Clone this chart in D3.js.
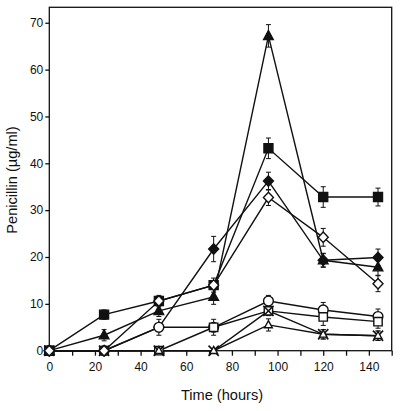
<!DOCTYPE html>
<html><head><meta charset="utf-8">
<script src="https://cdn.jsdelivr.net/npm/d3@7"></script>
<style>body{margin:0;background:#fff}svg{display:block}text{font-family:"Liberation Sans",Arial,sans-serif;fill:#111}</style>
</head><body><svg id="c" width="400" height="411"></svg>
<script>
const times = [0, 24, 48, 72, 96, 120, 144];
const filledSquare   = [0, 7.7, 10.6, 14.0, 43.2, 32.8, 32.8];
const filledSquareErr= [0, 1.0, 0, 0, 2.2, 2.2, 1.9];
const filledTriangle = [0, 3.3, 8.5, 11.5, 67.2, 19.3, 17.8];
const filledTriangleErr=[0, 1.2, 1.2, 1.6, 2.4, 1.5, 1.7];
const filledDiamond  = [0, 0, 5.0, 21.7, 36.2, 19.3, 19.9];
const filledDiamondErr=[0, 0, 0, 2.7, 1.9, 1.4, 1.8];
const openCircle     = [0, 0, 5.0, 5.0, 10.6, 8.7, 7.3];
const openCircleErr  = [0, 0, 1.7, 0, 1.2, 1.6, 1.6];
const openSquare     = [0, 0, 0, 5.0, 8.5, 7.2, 6.2];
const openSquareErr  = [0, 0, 0, 1.7, 1.0, 1.8, 1.4];
const cross          = [0, 0, 0, 0, 8.5, 3.5, 3.2];
const crossErr       = [0, 0, 0, 0, 1.0, 1.0, 1.0];
const openTriangle   = [0, 0, 0, 0, 5.5, 3.5, 3.2];
const openTriangleErr= [0, 0, 0, 0, 1.3, 1.0, 1.0];
const openDiamond    = [0, 0, 10.6, 14.0, 32.7, 24.2, 14.3];
const openDiamondErr = [0, 0, 1.2, 1.5, 1.7, 1.9, 1.7];
const xTicks = [0, 20, 40, 60, 80, 100, 120, 140];
const yTicks = [0, 10, 20, 30, 40, 50, 60, 70];

const symDiamond = { draw(ctx, size) { const r = Math.sqrt(size / 2); ctx.moveTo(0, -r * 1.05); ctx.lineTo(r, 0); ctx.lineTo(0, r * 1.05); ctx.lineTo(-r, 0); ctx.closePath(); } };
const symTri = { draw(ctx, size) { const s = Math.sqrt(size) * 1.3; const h = s * 0.92; ctx.moveTo(0, -h * 0.6); ctx.lineTo(s / 2, h * 0.4); ctx.lineTo(-s / 2, h * 0.4); ctx.closePath(); } };

const series = [
  {v: filledSquare, e: filledSquareErr, sym: d3.symbolSquare, size: 81, fill: "#111"},
  {v: filledTriangle, e: filledTriangleErr, sym: symTri, size: 55, fill: "#111"},
  {v: filledDiamond, e: filledDiamondErr, sym: symDiamond, size: 50, fill: "#111"},
  {v: openCircle, e: openCircleErr, sym: d3.symbolCircle, size: 75, fill: "#fff"},
  {v: openSquare, e: openSquareErr, sym: d3.symbolSquare, size: 70, fill: "#fff"},
  {v: cross, e: crossErr, sym: d3.symbolX, size: 70, fill: "none"},
  {v: openTriangle, e: openTriangleErr, sym: symTri, size: 35, fill: "#fff"},
  {v: openDiamond, e: openDiamondErr, sym: symDiamond, size: 50, fill: "#fff"}
];

const svg = d3.select("#c");
const x = d3.scaleLinear().domain([0, 150]).range([49.3, 391.7]);
const y = d3.scaleLinear().domain([0, 73.3]).range([350.7, 7.3]);

svg.append("rect").attr("x", x(0)).attr("y", y(73.3)).attr("width", x(150) - x(0)).attr("height", y(0) - y(73.3))
  .attr("fill", "none").attr("stroke", "#111").attr("stroke-width", 1.3);

const xa = svg.append("g").attr("transform", `translate(0,${y(0)})`)
  .call(d3.axisBottom(x).tickValues(d3.range(0, 151, 10)).tickSize(5).tickFormat(d => xTicks.includes(d) ? d : ""));
xa.select(".domain").remove();
xa.selectAll("line").attr("stroke", "#111").attr("stroke-width", 1.3);
xa.selectAll("text").attr("font-size", 12).attr("dy", "1.05em").style("font-family", "Liberation Sans, Arial, sans-serif").attr("fill", "#111");

const ya = svg.append("g").attr("transform", `translate(${x(0)},0)`)
  .call(d3.axisLeft(y).tickValues(yTicks).tickSize(4).tickPadding(2));
ya.select(".domain").remove();
ya.selectAll("line").attr("stroke", "#111").attr("stroke-width", 1.3);
ya.selectAll("text").attr("font-size", 12).style("font-family", "Liberation Sans, Arial, sans-serif").attr("fill", "#111");

svg.append("text").attr("x", 222).attr("y", 400).attr("text-anchor", "middle").attr("font-size", 14.6).text("Time (hours)");
svg.append("text").attr("transform", "translate(17,180) rotate(-90)").attr("text-anchor", "middle").attr("font-size", 14.6).text("Penicillin (µg/ml)");

const line = d3.line().x((d, i) => x(times[i])).y(d => y(d));
const plot = svg.append("g");
series.forEach(s => {
  plot.append("path").attr("d", line(s.v)).attr("fill", "none").attr("stroke", "#111").attr("stroke-width", 1.4);
});
series.forEach(s => {
  s.v.forEach((v, i) => {
    const e = s.e[i];
    if (!e) return;
    const cx = x(times[i]);
    const g = plot.append("g").attr("stroke", "#111").attr("stroke-width", 1);
    g.append("line").attr("x1", cx).attr("x2", cx).attr("y1", y(v - e)).attr("y2", y(v + e));
    g.append("line").attr("x1", cx - 2.5).attr("x2", cx + 2.5).attr("y1", y(v - e)).attr("y2", y(v - e));
    g.append("line").attr("x1", cx - 2.5).attr("x2", cx + 2.5).attr("y1", y(v + e)).attr("y2", y(v + e));
  });
});
series.forEach(s => {
  const sym = d3.symbol().type(s.sym).size(s.size);
  s.v.forEach((v, i) => {
    plot.append("path").attr("d", sym())
      .attr("transform", `translate(${x(times[i])},${y(v)})`)
      .attr("fill", s.fill).attr("stroke", "#111").attr("stroke-width", s.sym === d3.symbolX ? 1.6 : 1.4);
  });
});
</script></body></html>
